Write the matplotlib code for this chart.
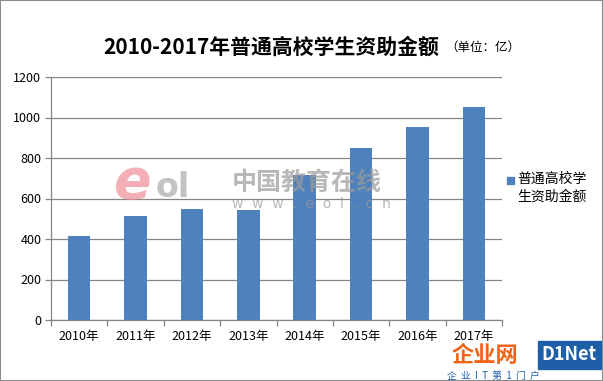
import matplotlib
matplotlib.use("Agg")
import matplotlib.pyplot as plt
from matplotlib.patches import Rectangle
import numpy as np

plt.rcParams['font.family'] = ['Noto Sans CJK SC', 'DejaVu Sans']

years = ['2010年', '2011年', '2012年', '2013年', '2014年', '2015年', '2016年', '2017年']
amounts = [417, 516, 546, 544, 718, 847, 955, 1050]
series_name = '普通高校学\n生资助金额'
title = '2010-2017年普通高校学生资助金额'
unit = '（单位：亿）'

bar_color = '#4F81BD'
grid_color = '#868686'

fig = plt.figure(figsize=(6.03, 3.81), dpi=100)
ax = fig.add_axes([51 / 603, 61 / 381, 451 / 603, 243 / 381])

x = np.arange(len(years))
ax.bar(x, amounts, width=0.4, color=bar_color, zorder=3)

ax.set_xlim(-0.5, len(years) - 0.5)
ax.set_ylim(0, 1200)
ax.set_yticks(range(0, 1201, 200))
ax.yaxis.grid(True, color=grid_color, linewidth=0.9, zorder=0)
ax.set_axisbelow(True)

ax.set_xticks(x)
ax.set_xticklabels(years, fontsize=9)
ax.set_xticks(np.arange(-0.5, len(years)), minor=True)
ax.tick_params(axis='x', which='major', length=0, pad=7)
ax.tick_params(axis='x', which='minor', length=4, color=grid_color, width=0.9)
ax.tick_params(axis='y', length=4, color=grid_color, width=0.9, labelsize=9, pad=3)

for side in ['top', 'right']:
    ax.spines[side].set_visible(False)
for side in ['left', 'bottom']:
    ax.spines[side].set_color(grid_color)
    ax.spines[side].set_linewidth(0.9)

fig.text(103 / 603, 1 - 47 / 381, title, fontsize=15, fontweight='bold',
         ha='left', va='center')
fig.text(445 / 603, 1 - 47 / 381, unit, fontsize=9, ha='left', va='center')

# legend: square beside the first line, as in the source chart
fig.patches.append(Rectangle((507 / 603, 1 - 184 / 381), 7 / 603, 7 / 381,
                             transform=fig.transFigure, color=bar_color))
fig.text(517 / 603, 1 - 172 / 381, series_name, fontsize=10, linespacing=1.3,
         ha='left', va='top')

# watermarks
fig.text(114 / 603, 1 - 183 / 381, 'e', fontsize=40, fontweight='bold', style='italic',
         color='#f08c96', alpha=0.7, ha='left', va='center', family='DejaVu Sans')
fig.text(156 / 603, 1 - 188 / 381, 'ol', fontsize=24, fontweight='bold',
         color='#a8a8a8', alpha=0.7, ha='left', va='center', family='DejaVu Sans')
fig.text(232 / 603, 1 - 183 / 381, '中国教育在线', fontsize=18, fontweight='bold',
         color='#9a9a9a', alpha=0.7, ha='left', va='center')
fig.text(232 / 603, 1 - 204 / 381, 'w  w  w  .  e  o  l  .  c  n', fontsize=10,
         color='#9a9a9a', alpha=0.7, ha='left', va='center', family='DejaVu Sans')

fig.text(452 / 603, 1 - 355 / 381, '企业网', fontsize=16, fontweight='bold',
         color='#f06418', ha='left', va='center')
fig.patches.append(Rectangle((538 / 603, 1 - 369 / 381), 65 / 603, 28 / 381,
                             transform=fig.transFigure, color='#1f5fa8', zorder=5))
fig.text(541 / 603, 1 - 355 / 381, 'D1Net', fontsize=13, fontweight='bold',
         color='white', ha='left', va='center', zorder=6)
fig.text(447 / 603, 1 - 376 / 381, '企  业  I  T  第  1  门  户', fontsize=7,
         color='#1f5fa8', ha='left', va='center')

fig.patches.append(Rectangle((0, 0), 1, 1, transform=fig.transFigure, fill=False,
                             edgecolor='#8c8c8c', linewidth=1.5, zorder=10))

plt.savefig('out.png', dpi=100)
